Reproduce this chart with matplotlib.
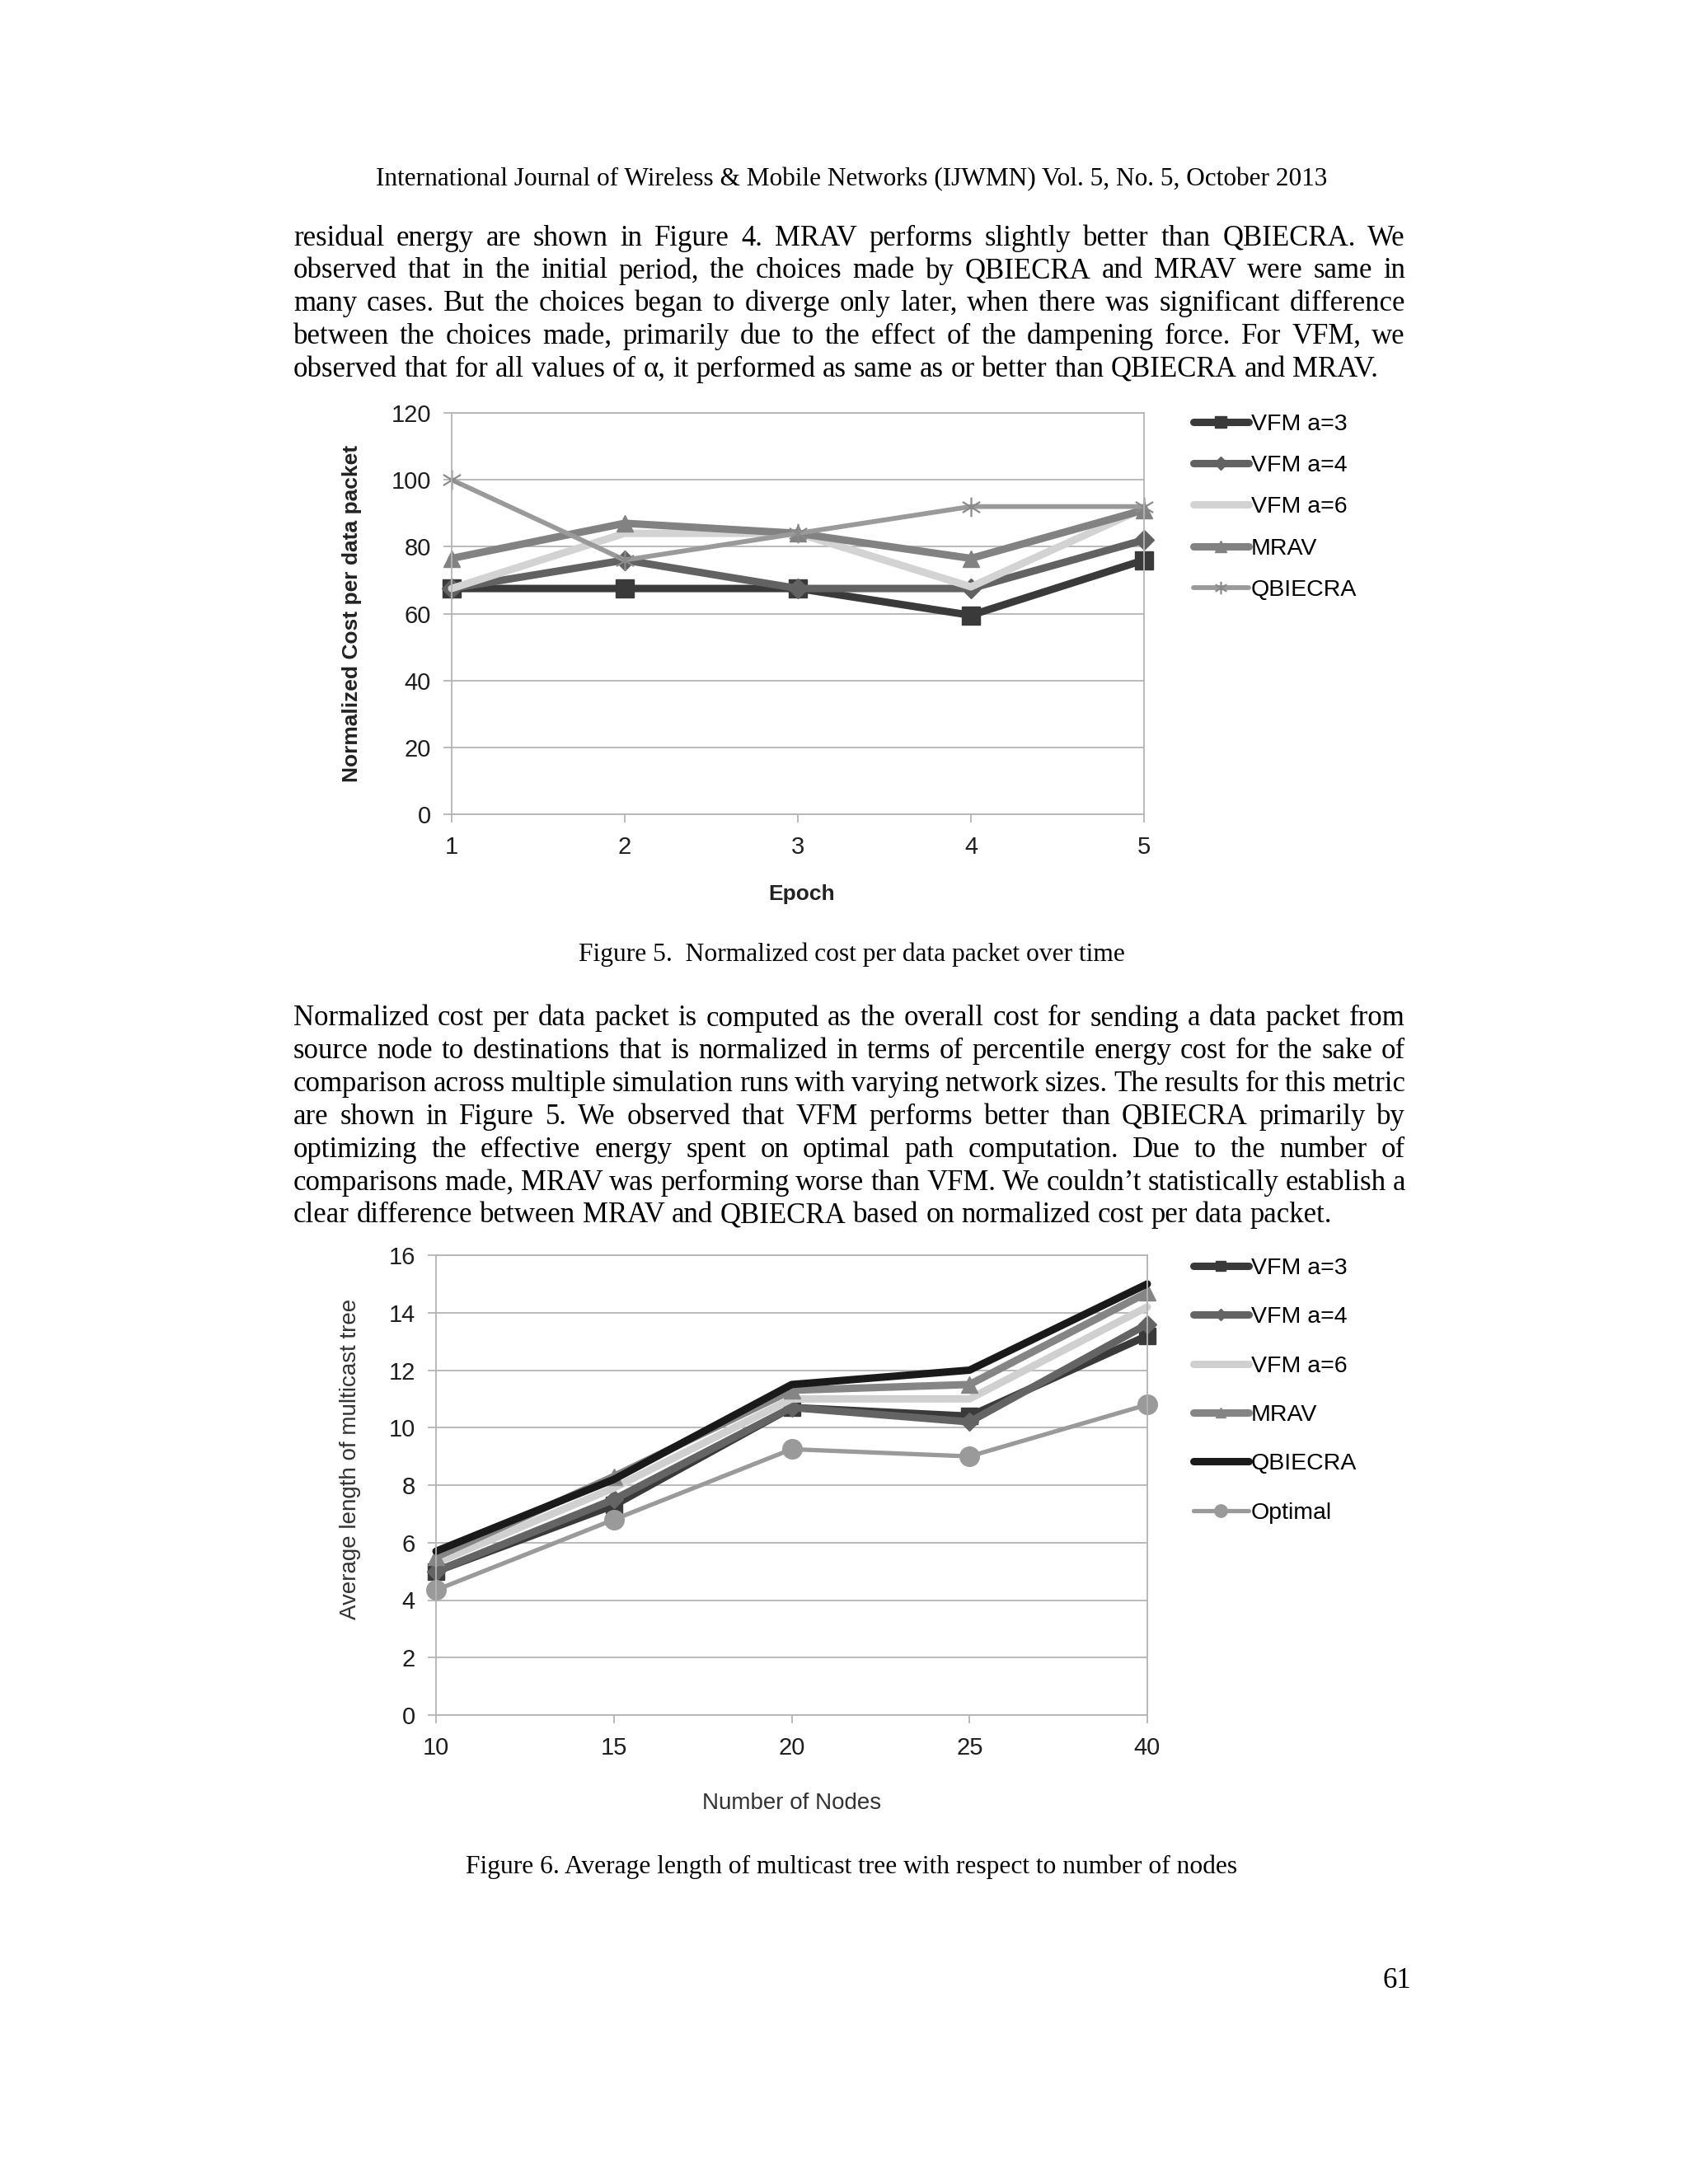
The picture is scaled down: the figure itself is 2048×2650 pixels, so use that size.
import numpy as np
import matplotlib
matplotlib.use("Agg")
import matplotlib.pyplot as plt
from matplotlib.path import Path

W, H = 2048, 2650
SERIF = ["Liberation Serif", "DejaVu Serif"]
SANS = ["Liberation Sans", "DejaVu Sans"]

# --- data: Figure 5 (cost per packet vs epoch) ---
epochs = [1, 2, 3, 4, 5]
cost_vfm3 = [67.5, 67.5, 67.5, 59.5, 76]
cost_vfm4 = [67.5, 76, 67.5, 67.5, 82]
cost_vfm6 = [67.5, 84, 84, 68, 91.5]
cost_mrav = [76.5, 87, 84, 76.5, 91]
cost_qbiecra = [100, 76, 84, 92, 92]

# --- data: Figure 6 (tree length vs nodes) ---
node_labels = ["10", "15", "20", "25", "40"]
len_vfm3 = [5.0, 7.3, 10.7, 10.4, 13.2]
len_vfm4 = [5.0, 7.5, 10.7, 10.2, 13.6]
len_vfm6 = [5.3, 7.9, 11.0, 11.0, 14.2]
len_mrav = [5.5, 8.3, 11.3, 11.5, 14.7]
len_qbiecra = [5.7, 8.2, 11.5, 12.0, 15.0]
len_optimal = [4.35, 6.8, 9.25, 9.0, 10.8]

header = "International Journal of Wireless & Mobile Networks (IJWMN) Vol. 5, No. 5, October 2013"
para1 = [
    "residual energy are shown in Figure 4. MRAV performs slightly better than QBIECRA. We",
    "observed that in the initial period, the choices made by QBIECRA and MRAV were same in",
    "many cases. But the choices began to diverge only later, when there was significant difference",
    "between the choices made, primarily due to the effect of the dampening force. For VFM, we",
    "observed that for all values of \u03b1, it performed as same as or better than QBIECRA and MRAV.",
]
para2 = [
    "Normalized cost per data packet is computed as the overall cost for sending a data packet from",
    "source node to destinations that is normalized in terms of percentile energy cost for the sake of",
    "comparison across multiple simulation runs with varying network sizes. The results for this metric",
    "are shown in Figure 5. We observed that VFM performs better than QBIECRA primarily by",
    "optimizing the effective energy spent on optimal path computation. Due to the number of",
    "comparisons made, MRAV was performing worse than VFM. We couldn\u2019t statistically establish a",
    "clear difference between MRAV and QBIECRA based on normalized cost per data packet.",
]
cap5 = "Figure 5.  Normalized cost per data packet over time"
cap6 = "Figure 6. Average length of multicast tree with respect to number of nodes"

fig = plt.figure(figsize=(W / 100, H / 100), dpi=100)
renderer = fig.canvas.get_renderer()

BODY = 25
X0, X1 = 356, 1705


def fx(px):
    return px / W


def fy(py):
    return 1 - py / H


def justified(lines, y0, step):
    for i, line in enumerate(lines):
        y = y0 + i * step
        words = line.split()
        objs = [fig.text(0, fy(y), w, fontsize=BODY, family=SERIF, va="center") for w in words]
        widths = [o.get_window_extent(renderer).width for o in objs]
        if i == len(lines) - 1:
            gap = 0.25 * BODY * 100 / 72
        else:
            gap = (X1 - X0 - sum(widths)) / (len(words) - 1)
        x = X0
        for o, w in zip(objs, widths):
            o.set_x(fx(x))
            x += w + gap


fig.text(fx(1033), fy(218), header, fontsize=22.5, family=SERIF, ha="center", va="center")
justified(para1, 289, 39.8)
fig.text(fx(1033), fy(1158), cap5, fontsize=22.7, family=SERIF, ha="center", va="center")
justified(para2, 1236, 39.8)
fig.text(fx(1033), fy(2265), cap6, fontsize=22.7, family=SERIF, ha="center", va="center")
fig.text(fx(1712), fy(2403), "61", fontsize=BODY, family=SERIF, ha="right", va="center")

# excel style asterisk marker
star = Path([(0, -1), (0, 1), (-0.9, -0.55), (0.9, 0.55), (-0.9, 0.55), (0.9, -0.55)],
            [Path.MOVETO, Path.LINETO] * 3)

line_kw = dict(solid_capstyle="round", solid_joinstyle="round", clip_on=False)


def style_axes(ax, ymax, ystep):
    ax.set_ylim(0, ymax)
    ax.set_yticks(np.arange(0, ymax + 1, ystep))
    ax.grid(axis="y", color="#b4b4b4", lw=1.3)
    ax.set_axisbelow(True)
    for s in ax.spines.values():
        s.set_color("#b4b4b4")
        s.set_linewidth(1.3)
    ax.tick_params(axis="both", colors="#b4b4b4", width=1.3, length=7, labelsize=21,
                   labelcolor="#1e1e1e")
    ax.tick_params(axis="y", pad=11)
    ax.tick_params(axis="x", pad=12)
    for t in ax.get_xticklabels() + ax.get_yticklabels():
        t.set_family(SANS)


leg_kw = dict(loc="upper left", frameon=False, handlelength=2.35, handletextpad=0.1,
              borderpad=0, borderaxespad=0, markerscale=0.65,
              prop={"family": SANS, "size": 20.5})

# ---------- Figure 5 ----------
ax1 = fig.add_axes([fx(548), fy(988), (1388 - 548) / W, (988 - 501) / H])
ax1.plot(epochs, cost_vfm3, color="#3a3a3a", lw=6.5, marker="s", ms=16, label="VFM a=3", **line_kw)
ax1.plot(epochs, cost_vfm4, color="#626262", lw=6.5, marker="D", ms=12.5, label="VFM a=4", **line_kw)
ax1.plot(epochs, cost_vfm6, color="#d3d3d3", lw=6.5, label="VFM a=6", **line_kw)
ax1.plot(epochs, cost_mrav, color="#828282", lw=6.5, marker="^", ms=15, label="MRAV", **line_kw)
ax1.plot(epochs, cost_qbiecra, color="#9a9a9a", lw=4.2, marker=star, ms=17, mew=1.6,
         mec="#8a8a8a", mfc="none", label="QBIECRA", **line_kw)
ax1.set_xlim(1, 5)
ax1.set_xticks(epochs)
style_axes(ax1, 120, 20)
ax1.set_ylabel("Normalized Cost per data packet", fontsize=19, fontweight="bold", family=SANS,
               color="#222222")
ax1.yaxis.set_label_coords(-0.13, 0.5)
ax1.set_xlabel("Epoch", fontsize=19, fontweight="bold", family=SANS, color="#222222")
ax1.xaxis.set_label_coords(0.505, -0.199)
ax1.xaxis.label.set_va("center")
fig.legend(handles=ax1.get_lines(), bbox_to_anchor=(fx(1448), fy(502)),
           labelspacing=0.85, **leg_kw)

# ---------- Figure 6 ----------
xpos = np.arange(len(node_labels))
ax2 = fig.add_axes([fx(529), fy(2081), (1392 - 529) / W, (2081 - 1523) / H])
ax2.plot(xpos, len_vfm3, color="#3a3a3a", lw=6.5, marker="s", ms=14, label="VFM a=3", **line_kw)
ax2.plot(xpos, len_vfm4, color="#646464", lw=6.5, marker="D", ms=11, label="VFM a=4", **line_kw)
ax2.plot(xpos, len_vfm6, color="#d0d0d0", lw=6.5, label="VFM a=6", **line_kw)
ax2.plot(xpos, len_mrav, color="#858585", lw=6.5, marker="^", ms=14, label="MRAV", **line_kw)
ax2.plot(xpos, len_qbiecra, color="#1a1a1a", lw=6.5, label="QBIECRA", **line_kw)
ax2.plot(xpos, len_optimal, color="#9a9a9a", lw=3.8, marker="o", ms=17, label="Optimal", **line_kw)
ax2.set_xlim(0, len(node_labels) - 1)
ax2.set_xticks(xpos)
ax2.set_xticklabels(node_labels)
style_axes(ax2, 16, 2)
ax2.set_ylabel("Average length of multicast tree", fontsize=20, family=SANS, color="#333333")
ax2.yaxis.set_label_coords(-0.105, 0.557)
ax2.set_xlabel("Number of Nodes", fontsize=20, family=SANS, color="#333333")
ax2.xaxis.set_label_coords(0.5, -0.192)
ax2.xaxis.label.set_va("center")
fig.legend(handles=ax2.get_lines(), bbox_to_anchor=(fx(1448), fy(1526)),
           labelspacing=1.17, **leg_kw)

fig.savefig("out.png", dpi=100, facecolor="white")
